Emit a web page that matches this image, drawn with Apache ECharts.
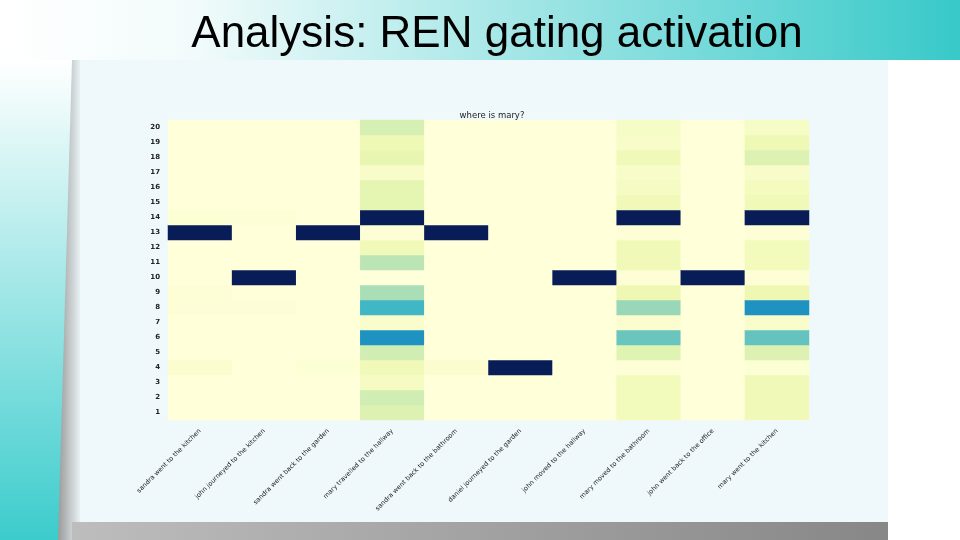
<!DOCTYPE html>
<html>
<head>
<meta charset="utf-8">
<script src="https://cdn.jsdelivr.net/npm/echarts@6/dist/echarts.min.js"></script>
<style>
  html, body { margin: 0; padding: 0; background: #fff; }
  #main { width: 960px; height: 540px; }
</style>
</head>
<body>
<div id="main"></div>
<script>
// story sentences (x axis)
var sentences = [
  'sandra went to the kitchen',
  'john journeyed to the kitchen',
  'sandra went back to the garden',
  'mary travelled to the hallway',
  'sandra went back to the bathroom',
  'daniel journeyed to the garden',
  'john moved to the hallway',
  'mary moved to the bathroom',
  'john went back to the office',
  'mary went to the kitchen'
];
// memory slots (y axis), bottom to top
var slots = ['1','2','3','4','5','6','7','8','9','10','11','12','13','14','15','16','17','18','19','20'];

// gate activation per sentence, slot 1 -> slot 20
var sandraKitchen   = [0, 0, 0, 0.03, 0, 0, 0, 0.01, 0.01, 0, 0, 0, 1, 0.02, 0, 0, 0, 0, 0, 0];
var johnKitchen     = [0, 0, 0, 0, 0, 0, 0, 0.01, 0, 1, 0, 0, 0, 0.01, 0, 0, 0, 0, 0, 0];
var sandraGarden    = [0, 0, 0, 0.02, 0, 0, 0, 0, 0, 0, 0, 0, 1, 0, 0, 0, 0, 0, 0, 0];
var maryHallway     = [0.18, 0.22, 0.07, 0.1, 0.22, 0.62, 0.04, 0.5, 0.3, 0.0, 0.27, 0.1, 0.01, 1, 0.15, 0.15, 0.05, 0.14, 0.11, 0.2];
var sandraBathroom  = [0, 0, 0, 0.03, 0, 0, 0, 0, 0, 0, 0, 0, 1, 0, 0, 0, 0, 0, 0, 0];
var danielGarden    = [0, 0, 0, 1, 0, 0, 0, 0, 0, 0, 0, 0, 0, 0, 0, 0, 0, 0, 0, 0];
var johnHallway     = [0, 0, 0, 0, 0, 0, 0, 0, 0, 1, 0, 0, 0, 0, 0, 0, 0, 0, 0, 0];
var maryBathroom    = [0.09, 0.09, 0.09, 0.01, 0.17, 0.42, 0.03, 0.33, 0.12, 0.01, 0.1, 0.1, 0.01, 1, 0.1, 0.07, 0.05, 0.1, 0.05, 0.06];
var johnOffice      = [0, 0, 0, 0, 0, 0, 0, 0, 0, 1, 0, 0, 0, 0, 0, 0, 0, 0, 0, 0];
var maryKitchen     = [0.1, 0.1, 0.1, 0.02, 0.18, 0.43, 0.04, 0.62, 0.12, 0.01, 0.09, 0.09, 0.01, 1, 0.1, 0.08, 0.05, 0.18, 0.11, 0.06];

var columns = [sandraKitchen, johnKitchen, sandraGarden, maryHallway, sandraBathroom,
               danielGarden, johnHallway, maryBathroom, johnOffice, maryKitchen];

var cells = [];
for (var i = 0; i < columns.length; i++) {
  for (var j = 0; j < slots.length; j++) {
    cells.push([i, j, columns[i][j]]);
  }
}

var myChart = echarts.init(document.getElementById('main'));
myChart.setOption({
  backgroundColor: '#ffffff',
  animation: false,
  graphic: [
    // title band
    { type: 'rect', z: -10, shape: { x: 0, y: 0, width: 960, height: 60 },
      style: { fill: new echarts.graphic.LinearGradient(0, 0, 1, 0, [
        { offset: 0, color: '#ffffff' }, { offset: 0.2, color: '#f2fbfb' },
        { offset: 1, color: '#38c9c9' }]) } },
    // left band
    { type: 'polygon', z: -10, shape: { points: [[0, 60], [74, 60], [60, 540], [0, 540]] },
      style: { fill: new echarts.graphic.LinearGradient(0, 0, 0, 1, [
        { offset: 0, color: '#ffffff' }, { offset: 1, color: '#3ccccc' }]) } },
    // panel shadow
    { type: 'polygon', z: -9, shape: { points: [[72, 60], [82, 60], [82, 540], [58, 540]] },
      style: { fill: new echarts.graphic.LinearGradient(0, 0, 1, 0, [
        { offset: 0, color: '#9a9a9a' }, { offset: 1, color: '#eef8fa' }]) } },
    // panel
    { type: 'rect', z: -9, shape: { x: 80, y: 60, width: 808, height: 462 },
      style: { fill: '#eff9fb' } },
    // bottom bar
    { type: 'rect', z: -9, shape: { x: 72, y: 522, width: 816, height: 18 },
      style: { fill: new echarts.graphic.LinearGradient(0, 0, 1, 0, [
        { offset: 0, color: '#bdbdbd' }, { offset: 1, color: '#878787' }]) } }
  ],
  title: [
    {
      text: 'Analysis: REN gating activation',
      left: 492,
      textAlign: 'center',
      top: 8,
      textStyle: { fontFamily: 'Liberation Sans', fontSize: 44, fontWeight: 'normal', color: '#000' }
    },
    {
      text: 'where is mary?',
      left: 487,
      textAlign: 'center',
      top: 106,
      textStyle: { fontFamily: 'DejaVu Sans', fontSize: 8.5, fontWeight: 'normal', color: '#222' }
    }
  ],
  grid: { left: 168, right: 151, top: 120, bottom: 120 },
  xAxis: {
    type: 'category',
    data: sentences,
    axisLine: { show: false },
    axisTick: { show: false },
    splitLine: { show: false },
    axisLabel: {
      interval: 0,
      rotate: 45,
      margin: 10,
      fontFamily: 'DejaVu Sans',
      fontSize: 6.5,
      color: '#222'
    }
  },
  yAxis: {
    type: 'category',
    data: slots,
    axisLine: { show: false },
    axisTick: { show: false },
    splitLine: { show: false },
    axisLabel: {
      interval: 0,
      margin: 8,
      fontFamily: 'DejaVu Sans',
      fontSize: 7,
      fontWeight: 'bold',
      color: '#222'
    }
  },
  visualMap: {
    show: false,
    min: 0,
    max: 1,
    dimension: 2,
    inRange: {
      color: ['#ffffd9', '#edf8b1', '#c7e9b4', '#7fcdbb', '#41b6c4',
              '#1d91c0', '#225ea8', '#253494', '#081d58']
    }
  },
  series: [{
    type: 'heatmap',
    data: cells,
    itemStyle: { borderWidth: 0 },
    emphasis: { disabled: true }
  }]
});
</script>
</body>
</html>
